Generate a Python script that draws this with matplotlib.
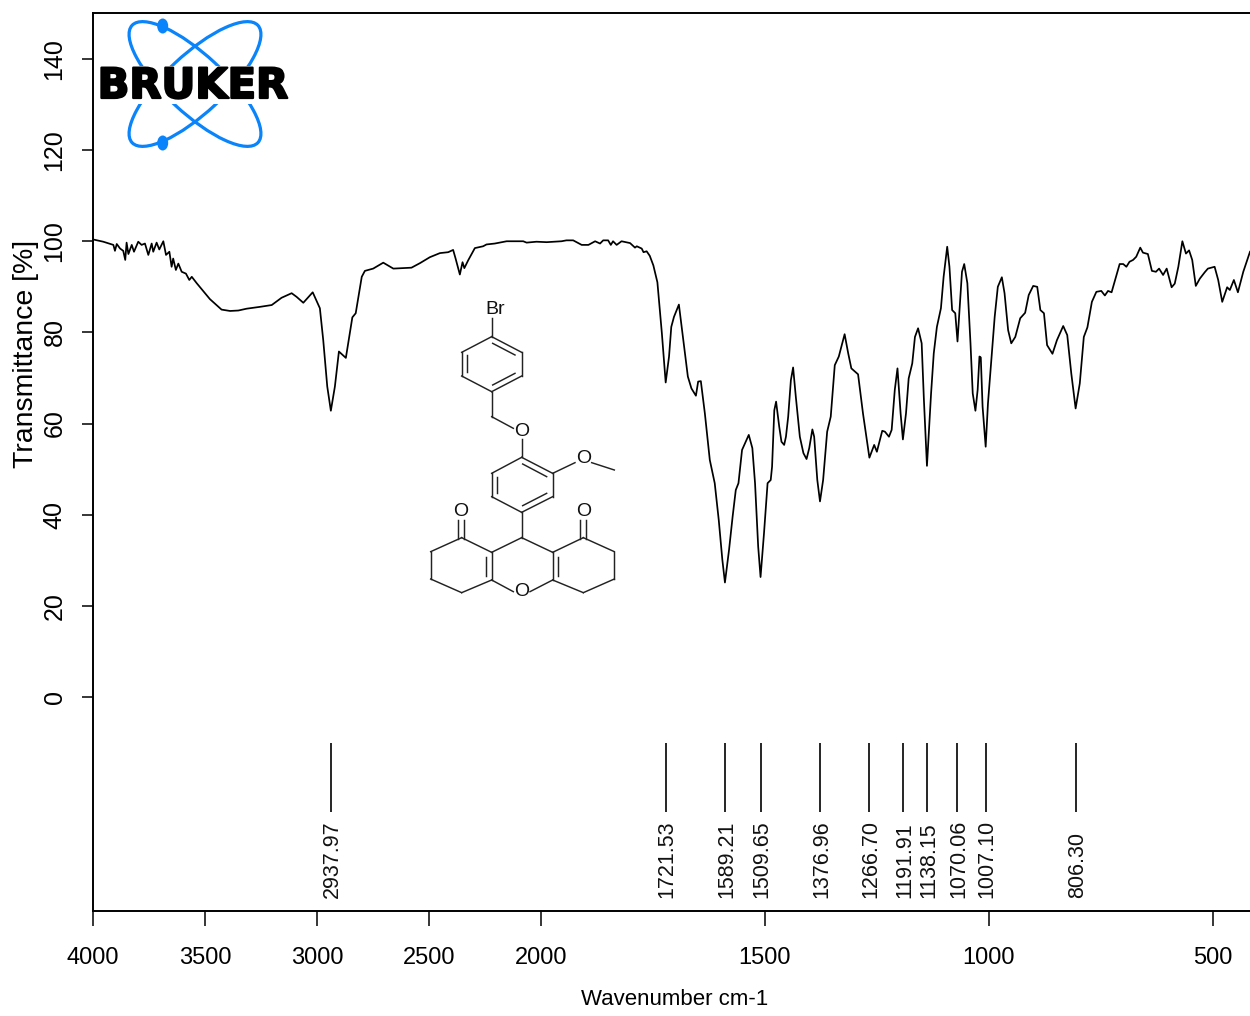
#!/usr/bin/env python3
"""FTIR spectrum with peak picks, molecule sketch and logo."""

import matplotlib
matplotlib.use("Agg")
import matplotlib.patheffects as pe
import matplotlib.pyplot as plt
import numpy as np
from matplotlib.patches import Ellipse, Rectangle
from matplotlib.ticker import NullLocator

WAVENUMBER = [
    4000, 3954, 3909, 3902, 3894, 3879, 3865, 3856, 3850, 3842, 3827, 3817, 3798, 3783, 3768, 3753,
    3738, 3731, 3716, 3704, 3686, 3674, 3659, 3649, 3642, 3630, 3619, 3604, 3585, 3570, 3559, 3537,
    3478, 3426, 3388, 3351, 3314, 3255, 3202, 3158, 3113, 3091, 3061, 3019, 2987, 2972, 2954, 2938,
    2920, 2902, 2871, 2842, 2827, 2800, 2786, 2749, 2704, 2659, 2578, 2540, 2496, 2451, 2414, 2392,
    2381, 2362, 2350, 2342, 2325, 2295, 2258, 2243, 2206, 2153, 2079, 2064, 2020, 1987, 1954, 1943,
    1928, 1909, 1894, 1879, 1868, 1861, 1850, 1844, 1839, 1831, 1820, 1801, 1790, 1786, 1775, 1771,
    1764, 1757, 1749, 1740, 1730, 1721.5, 1714, 1709, 1703, 1692, 1683, 1672, 1664, 1654, 1649, 1643,
    1634, 1623, 1612, 1603, 1595, 1589.2, 1580, 1572, 1565, 1559, 1551, 1545, 1536, 1528, 1522, 1515,
    1509.7, 1502, 1494, 1487, 1484, 1479, 1475, 1468, 1463, 1457, 1453, 1448, 1442, 1437, 1431, 1422,
    1414, 1407, 1401, 1394, 1390, 1383, 1377, 1370, 1361, 1353, 1344, 1335, 1322, 1314, 1307, 1292,
    1281, 1266.7, 1256, 1250, 1238, 1232, 1223, 1217, 1210, 1204, 1197, 1191.9, 1185, 1179, 1171, 1165,
    1158, 1150, 1145, 1138.2, 1129, 1123, 1116, 1107, 1101, 1093, 1088, 1082, 1075, 1070, 1065, 1060,
    1055, 1048, 1041, 1036, 1030, 1025, 1021, 1018, 1014, 1007.1, 1002, 995, 987, 980, 971, 965,
    957, 950, 941, 930, 919, 911, 901, 892, 885, 877, 870, 858, 848, 834, 825, 816,
    806.3, 797, 788, 780, 770, 760, 749, 741, 734, 726, 708, 700, 693, 686, 678, 671,
    662, 656, 645, 636, 627, 620, 611, 603, 592, 585, 577, 568, 560, 553, 546, 538,
    529, 518, 511, 496, 488, 479, 468, 462, 453, 444, 432, 417,
]
TRANSMITTANCE = [
    100.4, 99.9, 99.2, 97.9, 99.4, 98.4, 97.9, 95.9, 99.7, 97.2, 99.2, 97.7, 99.9, 99.2, 99.5, 97.0,
    99.5, 97.7, 99.7, 98.2, 100.0, 97.0, 97.7, 94.4, 96.2, 93.7, 95.1, 93.3, 92.9, 91.5, 92.2, 90.8,
    87.3, 85.0, 84.7, 84.8, 85.2, 85.6, 86.0, 87.6, 88.6, 87.8, 86.5, 88.8, 85.3, 78.3, 68.1, 62.8,
    68.1, 75.8, 74.4, 83.3, 84.2, 92.2, 93.5, 94.0, 95.3, 94.0, 94.2, 95.2, 96.5, 97.4, 97.6, 98.1,
    96.2, 92.7, 95.4, 94.1, 95.8, 98.5, 98.9, 99.3, 99.5, 100.0, 100.0, 99.7, 99.9, 99.8, 100.0, 100.2,
    100.2, 99.2, 99.2, 100.0, 99.5, 100.2, 100.2, 99.2, 100.0, 99.2, 100.0, 99.6, 98.6, 98.9, 98.4, 97.6,
    97.8, 96.8, 94.7, 91.0, 79.8, 69.0, 74.7, 81.2, 83.4, 86.1, 79.0, 70.3, 67.7, 66.1, 69.2, 69.3,
    62.2, 52.0, 46.9, 38.8, 30.1, 25.1, 32.3, 39.6, 45.4, 46.9, 54.2, 55.5, 57.5, 54.6, 46.9, 33.0,
    26.3, 35.9, 46.9, 47.6, 50.5, 62.9, 64.8, 59.3, 56.0, 55.3, 57.1, 61.5, 69.5, 72.3, 65.9, 57.1,
    53.5, 52.2, 54.6, 58.7, 57.1, 47.6, 42.9, 47.6, 58.2, 61.5, 72.8, 74.7, 79.6, 75.4, 72.1, 70.8,
    62.2, 52.5, 55.3, 53.8, 58.4, 58.2, 57.1, 58.6, 67.4, 72.1, 62.2, 56.5, 62.2, 69.9, 73.2, 79.0,
    80.9, 77.6, 65.2, 50.7, 66.6, 75.4, 81.2, 85.3, 92.2, 98.8, 94.4, 84.9, 84.2, 78.0, 85.6, 93.3,
    95.0, 90.8, 77.6, 66.6, 62.8, 67.4, 74.7, 74.5, 63.7, 54.9, 64.4, 73.2, 83.4, 90.0, 92.1, 88.6,
    80.5, 77.6, 79.0, 83.1, 84.3, 88.2, 90.2, 90.0, 84.9, 84.2, 77.2, 75.3, 78.3, 81.4, 79.4, 71.0,
    63.3, 68.8, 79.0, 81.1, 86.7, 88.9, 89.1, 88.1, 89.1, 88.8, 95.0, 95.0, 94.4, 95.5, 95.9, 96.6,
    98.6, 97.5, 97.2, 93.5, 93.3, 94.0, 92.6, 94.0, 89.9, 90.7, 94.4, 100.0, 97.3, 98.0, 95.9, 90.2,
    91.8, 93.2, 94.0, 94.4, 91.5, 86.7, 89.9, 89.3, 91.5, 88.8, 93.3, 97.7,
]

PEAK_WN = [2937.97, 1721.53, 1589.21, 1509.65, 1376.96, 1266.70, 1191.91, 1138.15, 1070.06, 1007.10, 806.30]
PEAK_LABELS = ["2937.97", "1721.53", "1589.21", "1509.65", "1376.96", "1266.70",
               "1191.91", "1138.15", "1070.06", "1007.10", "806.30"]
X_TICKS = [4000, 3500, 3000, 2500, 2000, 1500, 1000, 500]
Y_TICKS = [0, 20, 40, 60, 80, 100, 120, 140]

SANS = ["Liberation Sans", "DejaVu Sans"]
BLUE = "#0a84fa"

# Molecule sketch, in pixels of a 3x crop starting at (420, 295)
MOL_BONDS = [
    (215, 70, 215, 125), (215, 125, 305, 172), (305, 172, 305, 243), (305, 243, 215, 290),
    (215, 290, 125, 243), (125, 243, 125, 172), (125, 172, 215, 125),
    (140, 180, 140, 232), (218, 145, 285, 180), (218, 270, 285, 235),
    (215, 290, 215, 365), (215, 365, 280, 400), (305, 432, 305, 487),
    (305, 487, 398, 535), (398, 535, 398, 605), (398, 605, 305, 652), (305, 652, 215, 605),
    (215, 605, 215, 535), (215, 535, 305, 487),
    (232, 545, 232, 595), (308, 507, 380, 545), (308, 632, 380, 595),
    (398, 535, 465, 503), (515, 503, 583, 525), (305, 652, 305, 728),
    (305, 728, 215, 772), (305, 728, 398, 772), (215, 772, 215, 855), (398, 772, 398, 855),
    (198, 785, 198, 842), (415, 785, 415, 842), (215, 855, 280, 890), (398, 855, 330, 890),
    (215, 772, 125, 728), (125, 728, 32, 770), (32, 770, 32, 852), (32, 852, 125, 893), (125, 893, 215, 855),
    (398, 772, 490, 728), (490, 728, 583, 770), (583, 770, 583, 852), (583, 852, 490, 893), (490, 893, 398, 855),
    (114, 674, 114, 732), (132, 674, 132, 732), (481, 674, 481, 732), (499, 674, 499, 732),
]
MOL_ATOMS = [("Br", 225, 45), ("O", 305, 408), ("O", 490, 490), ("O", 123, 650), ("O", 490, 650), ("O", 305, 890)]


def fwd(w):
    # the instrument doubles the scale below 2000 cm-1
    w = np.asarray(w, dtype=float)
    return np.where(w >= 2000, w, 2000 - (2000 - w) * 2)


def inv(u):
    u = np.asarray(u, dtype=float)
    return np.where(u >= 2000, u, 2000 - (2000 - u) / 2)


fig = plt.figure(figsize=(12.5, 10.16), dpi=100)
ax = fig.add_axes([93 / 1250, 105 / 1016, 1157 / 1250, 898 / 1016])

ax.set_xscale("function", functions=(fwd, inv))
ax.set_xlim(4000, 417)
ax.set_ylim(-47, 150.1)

ax.plot(WAVENUMBER, TRANSMITTANCE, color="black", lw=1.25, solid_joinstyle="round")

ax.vlines(PEAK_WN, -25.2, -10.1, color="black", lw=1.2)
for wn, lab in zip(PEAK_WN, PEAK_LABELS):
    ax.annotate(lab, (wn, -44.1), xytext=(1.2, 0), textcoords="offset points", rotation=90,
                ha="center", va="bottom", fontsize=15.5, family=SANS, color="#111111")

ax.spines["right"].set_visible(False)
for side in ("top", "left", "bottom"):
    ax.spines[side].set_linewidth(1.4)

ax.set_xticks(X_TICKS)
ax.set_xticklabels([str(t) for t in X_TICKS], family=SANS, fontsize=17)
ax.xaxis.set_minor_locator(NullLocator())
ax.tick_params(axis="x", length=10.8, width=1.1, pad=15)
ax.set_yticks(Y_TICKS)
ax.set_yticklabels([str(t) for t in Y_TICKS], family=SANS, fontsize=18, rotation=90, va="center")
ax.tick_params(axis="y", length=8, width=1.1, pad=11)

ax.set_xlabel("Wavenumber cm-1", family=SANS, fontsize=16)
ax.xaxis.set_label_coords(0.503, -0.087)
ax.set_ylabel("Transmittance [%]", family=SANS, fontsize=20.5)
ax.yaxis.set_label_coords(-0.0465, 0.62)

# overlay in figure pixels for the logo and the structure drawing
ov = fig.add_axes([0, 0, 1, 1], facecolor="none")
ov.set_xlim(0, 1250)
ov.set_ylim(1016, 0)
ov.axis("off")

for bx0, by0, bx1, by1 in MOL_BONDS:
    ov.plot([420 + bx0 / 3, 420 + bx1 / 3], [295 + by0 / 3, 295 + by1 / 3], color="#222222", lw=1.05)
for sym, ax0, ay0 in MOL_ATOMS:
    ov.text(420 + ax0 / 3, 295 + ay0 / 3, sym, ha="center", va="center", fontsize=14, family=SANS, color="#111111")

for ang in (43, -43):
    ov.add_patch(Ellipse((195, 84), 172, 58, angle=ang, fill=False, ec=BLUE, lw=2.3))
for cy in (26, 143):
    ov.add_patch(Ellipse((162.7, cy), 11, 15, fc=BLUE, ec="none"))
ov.add_patch(Rectangle((95, 66), 197, 38, fc="white", ec="none", zorder=3))
ov.text(193, 86, "BRUKER", ha="center", va="center", fontsize=30, fontweight="bold", color="black",
        family="DejaVu Sans", zorder=4,
        path_effects=[pe.withStroke(linewidth=1.6, foreground="black")])

fig.savefig("out.png", dpi=100)
